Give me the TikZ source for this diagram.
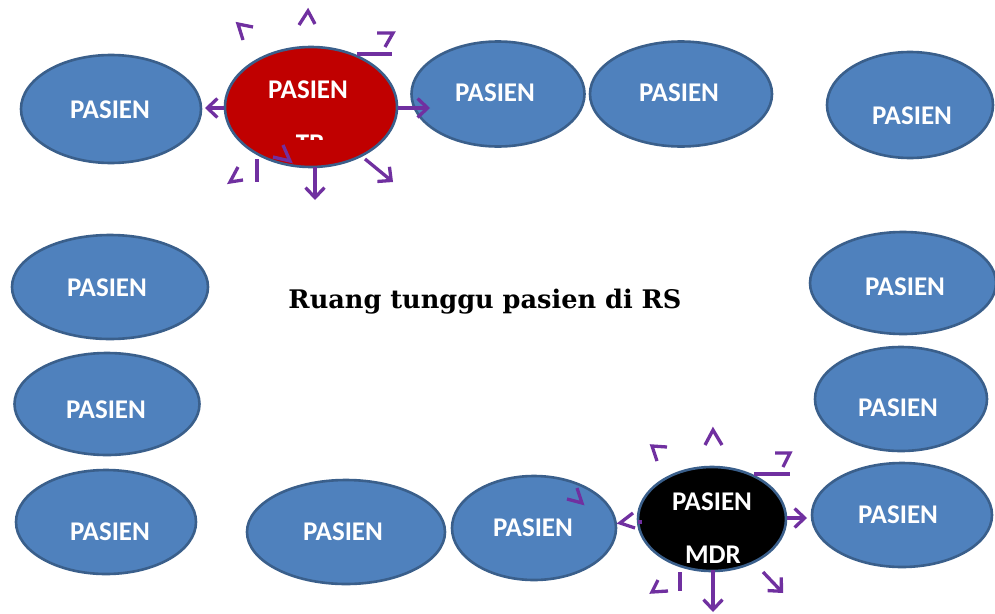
\documentclass[tikz,border=0pt]{standalone}
\usepackage{fontspec}
\usetikzlibrary{shapes.geometric,arrows.meta}
\newfontfamily\carlito{Carlito}
\newfontfamily\titleserif{DejaVu Serif}
\definecolor{pasienfill}{HTML}{4F81BD}
\definecolor{pasienline}{HTML}{3A5F8B}
\definecolor{tbred}{HTML}{C00000}
\definecolor{spread}{HTML}{7030A0}
\tikzset{
  pasien/.style n args={2}{ellipse, draw=pasienline, line width=2.6pt, fill=pasienfill,
    inner sep=0pt, minimum width=#1, minimum height=#2},
  lbl/.style={font=\fontsize{27}{27}\selectfont\bfseries\carlito, text=white,
    inner sep=0pt, text height=17.4pt, text depth=0pt},
  spreadarrow/.style={draw=spread, line width=3.3pt,
    -{Straight Barb[length=10pt,width=19pt,line width=3.3pt]}},
  chev/.style={draw=spread, line width=3.3pt, line join=miter},
}
\begin{document}
\begin{tikzpicture}[x=1pt,y=-1pt]
\useasboundingbox (0,0) rectangle (995,613);
\fill[white] (0,0) rectangle (995,613);

% patients along the walls of the waiting room
\node[pasien={180pt}{108pt}] (p1) at (111,109) {};
\node[pasien={173pt}{105pt}] (p3) at (498,94) {};
\node[pasien={182pt}{105pt}] (p4) at (681,94) {};
\node[pasien={166pt}{106pt}] (p5) at (910,105) {};
\node[pasien={196pt}{104pt}] (p6) at (110,287) {};
\node[pasien={185pt}{102pt}] (p7) at (107,404) {};
\node[pasien={180pt}{104pt}] (p8) at (106,522) {};
\node[pasien={198pt}{104pt}] (p9) at (346,532) {};
\node[pasien={164pt}{104pt}] (p10) at (534,528) {};
\node[pasien={180pt}{104pt}] (p12) at (902,515) {};
\node[pasien={186pt}{102pt}] (p13) at (903,283) {};
\node[pasien={172pt}{104pt}] (p14) at (901,399) {};

% infectious patients
\node[pasien={172pt}{120pt}, fill=tbred] (tb) at (311,107) {};
\node[pasien={148pt}{104pt}, fill=black] (mdr) at (712,519) {};

% labels
\node[lbl] (l1) at (110,110) {PASIEN};
\node[lbl] (l3) at (495,93) {PASIEN};
\node[lbl] (l4) at (679,93) {PASIEN};
\node[lbl] (l5) at (912,116) {PASIEN};
\node[lbl] (l6) at (107,288) {PASIEN};
\node[lbl] (l7) at (106,410) {PASIEN};
\node[lbl] (l8) at (110,532) {PASIEN};
\node[lbl] (l9) at (343,532) {PASIEN};
\node[lbl] (l10) at (533,528) {PASIEN};
\node[lbl] (l12) at (898,515) {PASIEN};
\node[lbl] (l13) at (905,287) {PASIEN};
\node[lbl] (l14) at (898,408) {PASIEN};
\node[lbl] (ltb) at (308,90) {PASIEN};
\begin{scope}
  \clip (260,100) rectangle (360,139);
  \node[lbl] (ltb2) at (310,144) {TB};
\end{scope}
\node[lbl] (lmdr1) at (712,502) {PASIEN};
\node[lbl] (lmdr2) at (713,555) {MDR};

\node[font=\fontsize{25.6}{25.6}\selectfont\bfseries\titleserif, inner sep=0pt] (title) at (485,302) {Ruang tunggu pasien di RS};

% spread from the TB patient
\coordinate (tbL) at (205,108);
\coordinate (tbR) at (430,108);
\coordinate (tbDs) at (315,167);
\coordinate (tbD) at (315,200);
\coordinate (tbDRs) at (365,159);
\coordinate (tbDR) at (393,182);
\draw[spreadarrow] (tb.west |- tbL) -- (tbL);
\draw[spreadarrow] (tb.east |- tbR) -- (tbR);
\draw[spreadarrow] (tbDs) -- (tbD);
\draw[spreadarrow] (tbDRs) -- (tbDR);
\draw[chev] (299,25) -- (308,11) -- (315,24);
\draw[chev] (253,27) -- (238,24) -- (243,40);
\draw[chev] (377,33) -- (393,33) -- (385,47);
\draw[chev] (357,54) -- (392,54);
\draw[chev] (238,167) -- (230,182) -- (243,180);
\draw[chev] (257,159) -- (257,182);
\draw[chev] (283,145) -- (290,161) -- (273,157);

% spread from the MDR patient
\coordinate (mdrR) at (807,518);
\coordinate (mdrDs) at (713,570);
\coordinate (mdrD) at (713,612);
\coordinate (mdrDRs) at (763,572);
\coordinate (mdrDR) at (783,593);
\draw[spreadarrow] (mdr.east |- mdrR) -- (mdrR);
\draw[spreadarrow] (mdrDs) -- (mdrD);
\draw[spreadarrow] (mdrDRs) -- (mdrDR);
\draw[chev] (705,445) -- (713,430) -- (722,445);
\draw[chev] (667,447) -- (652,446) -- (657,461);
\draw[chev] (775,453) -- (790,453) -- (783,467);
\draw[chev] (754,474) -- (790,474);
\draw[chev] (633,513) -- (620,523) -- (635,528);
\draw[chev] (638,522) -- (642,522);
\draw[chev] (658,580) -- (652,592) -- (668,591);
\draw[chev] (680,572) -- (680,591);
\draw[chev] (577,488) -- (582,503) -- (567,499);
\end{tikzpicture}
\end{document}
